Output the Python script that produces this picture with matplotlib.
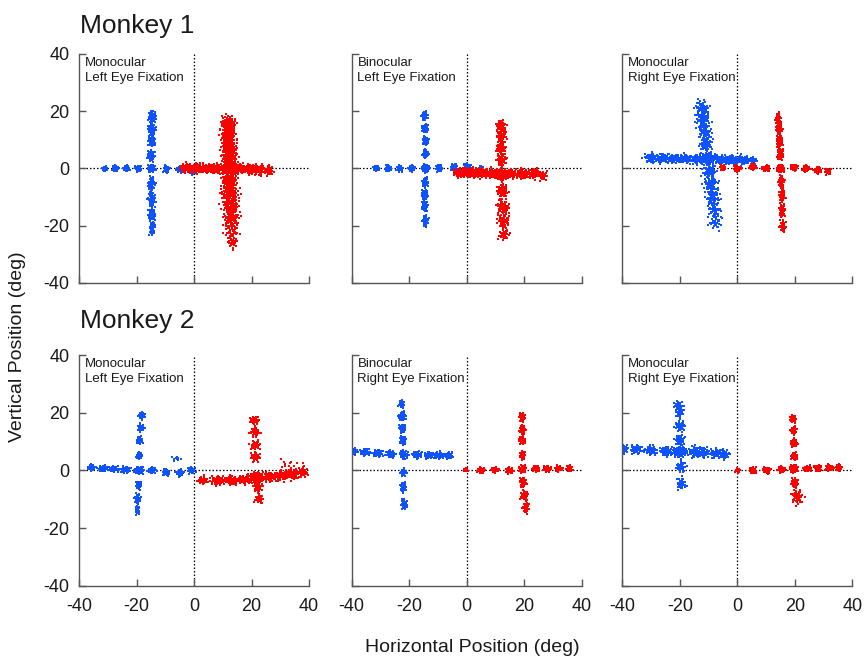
import numpy as np
import matplotlib
matplotlib.use("Agg")
import matplotlib.pyplot as plt

plt.rcParams["font.family"] = ["Liberation Sans", "DejaVu Sans"]
plt.rcParams["axes.unicode_minus"] = False

TICKS = [-40, -20, 0, 20, 40]
ROW_TITLES = ["Monkey 1", "Monkey 2"]
CONDITIONS = [
    ["Monocular\nLeft Eye Fixation", "Binocular\nLeft Eye Fixation", "Monocular\nRight Eye Fixation"],
    ["Monocular\nLeft Eye Fixation", "Binocular\nRight Eye Fixation", "Monocular\nRight Eye Fixation"],
]

# Fixation clusters per target: (x deg, y deg, sd x, sd y, samples)
M1_MONO_LEFT_BLUE = [
    (-31.0, 0.0, 0.5, 0.4, 40), (-27.3, 0.0, 0.5, 0.5, 50), (-23.5, 0.0, 0.5, 0.5, 50),
    (-19.4, 0.0, 0.5, 0.5, 50), (-9.6, -0.2, 0.5, 0.6, 40), (-5.0, -0.3, 0.5, 0.5, 40),
    (-0.5, -0.5, 0.6, 0.7, 50), (-14.8, 0.0, 0.6, 0.6, 70),
    (-14.6, 18.0, 0.6, 0.9, 60), (-14.7, 13.7, 0.6, 0.9, 60), (-14.8, 9.6, 0.6, 0.9, 60),
    (-14.9, 4.4, 0.6, 0.9, 60), (-14.8, -5.5, 0.6, 1.2, 60), (-14.7, -10.7, 0.6, 1.2, 60),
    (-14.6, -15.9, 0.6, 1.2, 60), (-14.6, -21.0, 0.5, 1.2, 40),
]
M1_MONO_LEFT_RED = [
    (-2.5, 0.2, 1.0, 0.8, 60), (1.0, 0.2, 1.2, 0.8, 70), (4.5, 0.0, 1.2, 0.8, 70),
    (8.0, 0.0, 1.2, 0.8, 70), (16.0, 0.0, 1.2, 0.8, 70), (19.5, -0.3, 1.2, 0.9, 60),
    (23.0, -0.5, 1.2, 0.9, 50), (26.0, -0.7, 0.8, 0.8, 30), (12.3, 0.0, 1.5, 1.0, 100),
    (12.0, 15.5, 1.3, 1.5, 90), (12.0, 11.5, 1.3, 1.5, 90), (12.2, 7.5, 1.3, 1.5, 90),
    (12.3, 3.5, 1.3, 1.5, 90), (12.3, -4.0, 1.4, 1.6, 90), (12.5, -8.5, 1.5, 1.6, 90),
    (12.7, -13.0, 1.5, 1.6, 80), (13.0, -17.5, 1.4, 1.6, 70), (13.2, -22.0, 1.2, 1.6, 40),
    (13.3, -26.0, 0.8, 1.3, 20),
]
M1_BINO_LEFT_BLUE = [
    (-31.4, 0.1, 0.5, 0.4, 40), (-27.3, 0.1, 0.5, 0.5, 50), (-23.3, 0.0, 0.5, 0.5, 50),
    (-19.2, 0.0, 0.5, 0.5, 50), (-9.7, 0.2, 0.5, 0.6, 45), (-4.4, 0.3, 0.5, 0.6, 45),
    (0.2, 0.5, 0.6, 0.6, 55), (4.9, 0.3, 0.4, 0.4, 15), (-14.3, 0.0, 0.6, 0.6, 70),
    (-14.6, 18.4, 0.5, 0.7, 50), (-14.4, 14.0, 0.5, 0.7, 50), (-14.3, 9.7, 0.5, 0.7, 50),
    (-14.3, 5.2, 0.5, 0.7, 50), (-14.4, -4.9, 0.5, 0.8, 50), (-14.6, -9.0, 0.5, 0.8, 50),
    (-14.6, -13.0, 0.5, 0.9, 50), (-14.4, -18.3, 0.5, 0.9, 50),
]
M1_BINO_LEFT_RED = [
    (-2.5, -1.4, 1.0, 0.8, 60), (1.0, -1.5, 1.2, 0.8, 70), (4.5, -1.6, 1.2, 0.8, 70),
    (8.0, -1.7, 1.2, 0.8, 70), (15.3, -1.8, 1.2, 0.8, 70), (19.4, -1.8, 1.2, 0.8, 70),
    (23.5, -1.8, 1.2, 0.8, 60), (26.5, -2.4, 0.8, 0.8, 30), (11.8, -2.0, 1.0, 0.9, 90),
    (11.9, 14.9, 0.8, 1.0, 55), (12.0, 11.4, 0.8, 1.0, 55), (12.0, 7.3, 0.8, 1.0, 55),
    (12.1, 2.9, 0.8, 1.0, 55), (12.4, -7.8, 0.9, 1.2, 60), (12.6, -13.6, 1.0, 1.3, 60),
    (12.8, -18.3, 1.0, 1.2, 55), (13.0, -23.0, 0.9, 1.2, 35),
]
M1_MONO_RIGHT_BLUE = [
    (-30.0, 3.8, 1.2, 0.8, 55), (-26.0, 3.6, 1.2, 0.8, 55), (-22.0, 3.5, 1.2, 0.8, 55),
    (-18.0, 3.4, 1.2, 0.8, 55), (-14.0, 3.3, 1.2, 0.8, 60), (-6.0, 3.1, 1.2, 0.8, 60),
    (-2.0, 3.0, 1.2, 0.8, 55), (2.0, 2.9, 1.2, 0.8, 50), (5.5, 2.8, 0.8, 0.7, 25),
    (-10.2, 3.3, 1.3, 1.0, 90),
    (-12.3, 21.0, 1.2, 1.4, 50), (-11.8, 17.0, 1.2, 1.4, 55), (-11.3, 13.0, 1.2, 1.4, 55),
    (-10.8, 8.5, 1.2, 1.4, 55), (-9.7, -1.0, 1.2, 1.5, 55), (-9.2, -5.5, 1.2, 1.5, 55),
    (-8.6, -10.0, 1.2, 1.5, 55), (-8.1, -14.5, 1.2, 1.5, 45), (-7.6, -19.0, 1.1, 1.2, 30),
]
M1_MONO_RIGHT_RED = [
    (-5.0, 0.3, 0.5, 0.5, 30), (0.0, 0.0, 0.6, 0.5, 50), (5.4, 0.6, 0.6, 0.5, 50),
    (10.0, 0.0, 0.6, 0.5, 50), (19.7, 0.3, 0.6, 0.5, 50), (24.0, 0.0, 0.6, 0.5, 50),
    (28.0, -0.6, 0.6, 0.5, 45), (31.5, -1.0, 0.5, 0.5, 40), (15.0, 0.0, 0.6, 0.6, 70),
    (14.3, 17.2, 0.5, 1.0, 50), (14.5, 13.7, 0.5, 1.0, 50), (14.7, 9.6, 0.5, 1.0, 50),
    (14.9, 5.0, 0.5, 1.0, 50), (15.3, -4.9, 0.5, 1.1, 50), (15.5, -9.5, 0.5, 1.1, 50),
    (15.6, -14.8, 0.5, 1.1, 50), (15.8, -20.0, 0.5, 1.0, 35),
]
M2_MONO_LEFT_BLUE = [
    (-35.6, 1.0, 0.6, 0.5, 40), (-31.6, 0.6, 0.8, 0.5, 50), (-27.7, 0.5, 0.8, 0.5, 50),
    (-23.7, 0.3, 0.8, 0.5, 50), (-14.5, 0.0, 0.7, 0.5, 50), (-9.8, -0.6, 0.6, 0.6, 40),
    (-5.0, -0.9, 0.6, 0.6, 40), (-0.9, 0.0, 0.6, 0.5, 40), (-19.2, 0.0, 0.8, 0.6, 60),
    (-6.0, 4.0, 1.0, 0.4, 10),
    (-18.2, 19.0, 0.5, 0.6, 40), (-18.5, 14.8, 0.5, 0.6, 40), (-18.9, 10.4, 0.5, 0.6, 40),
    (-19.0, 5.0, 0.5, 0.6, 40), (-19.3, -5.2, 0.5, 0.7, 40), (-19.6, -9.8, 0.5, 0.8, 40),
    (-19.6, -13.9, 0.4, 0.8, 25),
]
M2_MONO_LEFT_RED = [
    (3.1, -3.5, 0.8, 0.7, 45), (8.3, -3.5, 1.2, 0.7, 70), (13.0, -3.4, 1.2, 0.7, 70),
    (17.6, -3.2, 1.2, 0.7, 70), (26.2, -2.3, 1.2, 0.8, 60), (30.3, -1.8, 1.2, 0.9, 60),
    (34.3, -1.4, 1.2, 0.9, 55), (37.8, -0.6, 0.8, 0.9, 40), (21.6, -2.6, 1.3, 1.0, 90),
    (33.0, 2.0, 2.0, 0.8, 12),
    (21.0, 17.3, 0.8, 0.7, 40), (21.2, 13.3, 0.8, 0.8, 40), (21.3, 8.7, 0.8, 0.8, 40),
    (21.5, 4.6, 0.8, 0.8, 40), (22.2, -5.8, 0.8, 0.9, 40), (22.6, -9.8, 0.7, 0.8, 35),
]
M2_BINO_RIGHT_BLUE = [
    (-39.0, 6.6, 0.5, 0.5, 25), (-35.2, 6.3, 0.8, 0.6, 50), (-30.9, 6.0, 0.8, 0.6, 50),
    (-26.5, 5.8, 0.8, 0.6, 50), (-17.2, 5.4, 0.8, 0.6, 50), (-13.1, 5.3, 0.8, 0.6, 50),
    (-9.7, 5.2, 0.8, 0.6, 50), (-6.2, 5.1, 0.7, 0.6, 45), (-21.9, 5.4, 0.7, 0.7, 60),
    (-22.6, 23.0, 0.5, 0.7, 40), (-22.3, 18.7, 0.6, 0.7, 50), (-22.4, 14.5, 0.5, 0.7, 50),
    (-22.2, 10.4, 0.5, 0.7, 50), (-22.0, -0.6, 0.5, 0.6, 45), (-22.0, -5.8, 0.5, 0.8, 45),
    (-21.8, -11.6, 0.5, 0.9, 45),
]
M2_BINO_RIGHT_RED = [
    (-0.3, 0.2, 0.4, 0.4, 15), (4.9, 0.0, 0.6, 0.5, 45), (9.8, 0.2, 0.6, 0.5, 50),
    (14.8, 0.0, 0.6, 0.5, 50), (24.0, 0.5, 0.6, 0.5, 50), (28.0, 0.5, 0.6, 0.5, 50),
    (31.9, 0.6, 0.6, 0.5, 50), (35.7, 0.6, 0.5, 0.5, 40), (19.4, 0.5, 0.6, 0.6, 60),
    (19.3, 18.5, 0.5, 0.7, 45), (19.4, 14.1, 0.5, 0.7, 45), (19.3, 10.4, 0.5, 0.7, 45),
    (19.4, 5.4, 0.5, 0.7, 45), (19.6, -4.0, 0.6, 0.8, 45), (20.0, -8.7, 0.6, 0.8, 45),
    (20.6, -12.8, 0.5, 0.9, 40),
]
M2_MONO_RIGHT_BLUE = [
    (-39.2, 7.4, 0.6, 0.7, 30), (-35.1, 7.2, 1.0, 0.8, 50), (-30.1, 6.9, 1.0, 0.8, 50),
    (-24.7, 6.6, 1.0, 0.8, 55), (-14.8, 6.3, 1.0, 0.9, 55), (-11.9, 6.2, 1.0, 0.9, 55),
    (-7.3, 5.9, 1.0, 0.8, 55), (-4.4, 5.5, 0.8, 0.8, 40), (-20.0, 6.4, 1.3, 1.0, 80),
    (-20.5, 22.5, 0.7, 0.7, 35), (-20.0, 20.2, 0.7, 0.8, 40), (-20.0, 15.6, 0.8, 0.9, 50),
    (-20.0, 10.4, 0.8, 0.9, 50), (-19.6, 1.2, 0.8, 1.0, 40), (-19.5, -4.6, 0.8, 1.0, 40),
]
M2_MONO_RIGHT_RED = [
    (0.2, 0.0, 0.4, 0.4, 20), (5.4, 0.0, 0.6, 0.5, 45), (10.3, 0.0, 0.6, 0.5, 50),
    (15.3, 0.3, 0.6, 0.5, 50), (24.5, 0.6, 0.6, 0.5, 55), (28.0, 0.8, 0.6, 0.5, 50),
    (32.0, 0.9, 0.6, 0.5, 55), (35.3, 0.9, 0.6, 0.5, 45), (19.7, 0.6, 0.6, 0.6, 80),
    (19.4, 17.9, 0.5, 0.6, 45), (19.6, 13.9, 0.5, 0.6, 55), (19.7, 9.5, 0.5, 0.6, 55),
    (19.8, 4.9, 0.5, 0.6, 55), (20.0, -4.4, 0.5, 0.8, 45), (20.8, -9.2, 1.0, 1.3, 50),
]

PANELS = [
    [(M1_MONO_LEFT_BLUE, M1_MONO_LEFT_RED), (M1_BINO_LEFT_BLUE, M1_BINO_LEFT_RED),
     (M1_MONO_RIGHT_BLUE, M1_MONO_RIGHT_RED)],
    [(M2_MONO_LEFT_BLUE, M2_MONO_LEFT_RED), (M2_BINO_RIGHT_BLUE, M2_BINO_RIGHT_RED),
     (M2_MONO_RIGHT_BLUE, M2_MONO_RIGHT_RED)],
]

BLUE = "#0f52ff"
RED = "#ff0000"
INK = "#1a1a1a"
SPINE = "#555555"

_PLASTIC = 1.32471795724474602596
_A1, _A2 = 1.0 / _PLASTIC, 1.0 / _PLASTIC ** 2


def cluster_samples(clusters, start):
    """Spread each fixation cluster with a low-discrepancy gaussian pattern."""
    xs, ys = [], []
    k = start
    for cx, cy, sx, sy, n in clusters:
        idx = np.arange(k, k + n)
        u = (0.5 + _A1 * idx) % 1.0
        v = (0.5 + _A2 * idx) % 1.0
        r = np.minimum(np.sqrt(-2.0 * np.log(1.0 - u * 0.999)), 2.6)
        xs.append(cx + sx * r * np.cos(2 * np.pi * v))
        ys.append(cy + sy * r * np.sin(2 * np.pi * v))
        k += n
    return np.concatenate(xs), np.concatenate(ys), k


fig = plt.figure(figsize=(8.64, 6.57), dpi=100)

col_left = [79 / 864, 351.7 / 864, 622.3 / 864]
width = 230 / 864
row_box = [(1 - 283 / 657, 229 / 657), (1 - 585.7 / 657, 230.7 / 657)]

seq = 0
for r in range(2):
    for c in range(3):
        bottom, height = row_box[r]
        ax = fig.add_axes([col_left[c], bottom, width, height])
        ax.set_xlim(-40, 40)
        ax.set_ylim(-40, 40)
        ax.axvline(0, color="black", lw=0.9, ls=(0, (1.2, 1.6)), zorder=1)
        ax.axhline(0, color="black", lw=0.9, ls=(0, (1.2, 1.6)), zorder=1)

        blue, red = PANELS[r][c]
        bx, by, seq = cluster_samples(blue, seq)
        rx, ry, seq = cluster_samples(red, seq)
        ax.scatter(bx, by, s=0.9, marker="s", lw=0, color=BLUE, zorder=2)
        ax.scatter(rx, ry, s=0.9, marker="s", lw=0, color=RED, zorder=2)

        ax.text(0.025, 0.985, CONDITIONS[r][c], transform=ax.transAxes,
                ha="left", va="top", fontsize=9.5, color=INK, linespacing=1.3)

        for side in ("top", "right"):
            ax.spines[side].set_visible(False)
        for side in ("left", "bottom"):
            ax.spines[side].set_color(SPINE)
            ax.spines[side].set_linewidth(1.0)
        ax.set_xticks(TICKS)
        ax.set_yticks(TICKS)
        ax.tick_params(direction="in", length=4.8, width=1.0, color=SPINE,
                       labelsize=13, labelcolor=INK)
        ax.tick_params(axis="x", pad=9)
        ax.tick_params(axis="y", pad=7)
        if c != 0:
            ax.set_yticklabels([])
        if r != 1:
            ax.set_xticklabels([])

fig.text(80 / 864, 1 - 32.7 / 657, ROW_TITLES[0], fontsize=19, color=INK,
         ha="left", va="baseline")
fig.text(80 / 864, 1 - 328 / 657, ROW_TITLES[1], fontsize=19, color=INK,
         ha="left", va="baseline")
fig.text(18 / 864, 1 - 347 / 657, "Vertical Position (deg)", rotation=90,
         fontsize=14, color=INK, ha="center", va="center")
fig.text(472 / 864, 1 - 648 / 657, "Horizontal Position (deg)",
         fontsize=14, color=INK, ha="center", va="center")

fig.savefig("out.png", dpi=100)
